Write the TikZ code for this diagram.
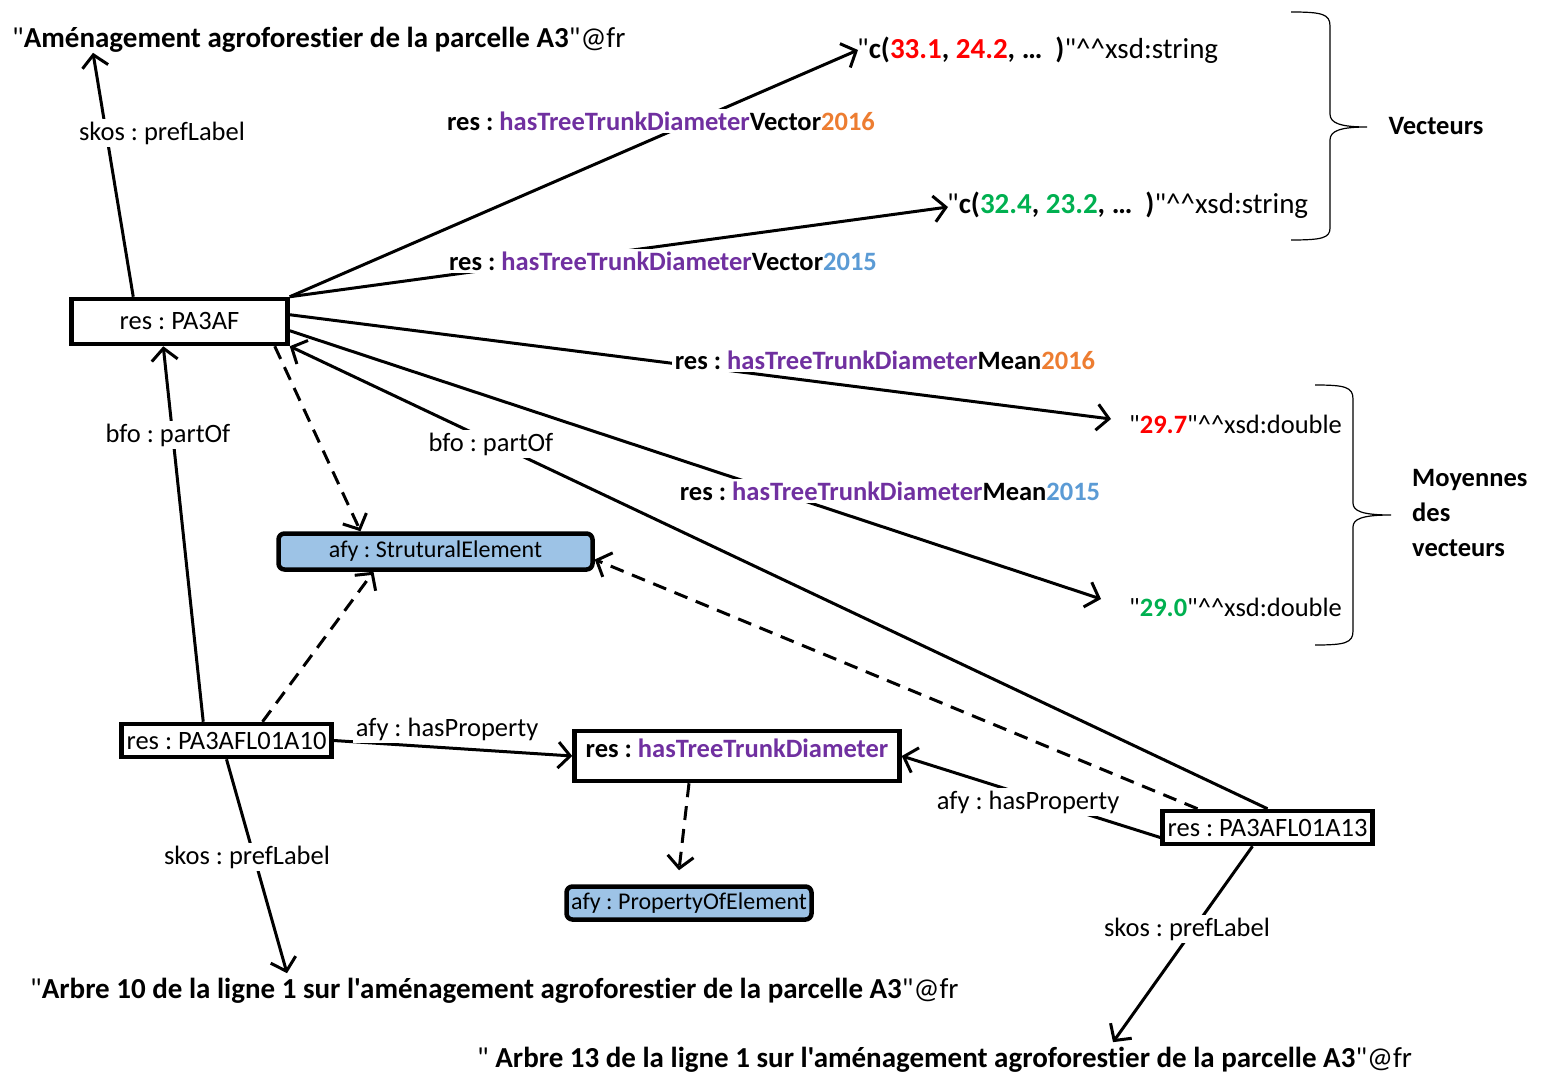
\documentclass[tikz,border=0pt]{standalone}
\usepackage{fontspec}
\setmainfont{Carlito}[Ligatures={TeXOff,CommonOff}]
\usetikzlibrary{arrows.meta, positioning, calc}
\definecolor{cpurple}{HTML}{7030A0}
\definecolor{corange}{HTML}{ED7D31}
\definecolor{cblue}{HTML}{5B9BD5}
\definecolor{cred}{HTML}{FF0000}
\definecolor{cgreen}{HTML}{00B050}
\definecolor{lightblue}{HTML}{9DC3E6}
\frenchspacing

\begin{document}
\begin{tikzpicture}[x=1pt, y=-1pt,
    every node/.style={font=\fontsize{26.5}{31}\selectfont},
    inst/.style={draw, line width=4.5pt, inner sep=2pt},
    cls/.style={inst, rounded corners=6pt, fill=lightblue, font=\fontsize{24}{28}\selectfont},
    lit/.style={anchor=west, inner sep=2pt},
    big/.style={lit, font=\fontsize{29}{34}\selectfont},
    lbl/.style={fill=white, inner sep=3pt},
    rel/.style={line width=3pt, -{Straight Barb[length=12pt, width=26pt, line width=3pt]}},
    typ/.style={rel, dash pattern=on 14pt off 9pt}]
  \useasboundingbox (0,0) rectangle (1544,1075);

  % resources
  \node[inst, minimum width=216pt, minimum height=45pt] (pa3af) at (179.5,321.5) {res : PA3AF};
  \node[cls, minimum width=314pt, minimum height=36pt] (struct) at (435.5,551.5) {afy : StruturalElement};
  \node[inst, minimum width=210pt, minimum height=33pt] (a10) at (226.5,740.5) {res : PA3AFL01A10};
  \node[inst, minimum width=325pt, text height=22pt, text depth=20pt, inner ysep=4pt] (htd) at (737,756)
    {\textbf{res : \textcolor{cpurple}{hasTreeTrunkDiameter}}};
  \node[cls, minimum width=245pt, minimum height=33pt] (poe) at (689,903) {afy : PropertyOfElement};
  \node[inst, minimum width=210pt, minimum height=33pt] (a13) at (1267.5,827.5) {res : PA3AFL01A13};

  % literals
  \node[big] (t1) at (10,40) {"\textbf{Aménagement agroforestier de la parcelle A3}"@fr};
  \node[big] (vec16) at (855,50)
    {"\textbf{c(\textcolor{cred}{33.1}, \textcolor{cred}{24.2}, …\ \ )}"\^{}\^{}xsd:string};
  \node[big] (vec15) at (945,205)
    {"\textbf{c(\textcolor{cgreen}{32.4}, \textcolor{cgreen}{23.2}, …\ \ )}"\^{}\^{}xsd:string};
  \node[lit] (m16) at (1127,424) {"\textbf{\textcolor{cred}{29.7}}"\^{}\^{}xsd:double};
  \node[lit] (m15) at (1127,607) {"\textbf{\textcolor{cgreen}{29.0}}"\^{}\^{}xsd:double};
  \node[big] (t10) at (28,991)
    {"\textbf{Arbre 10 de la ligne 1 sur l'aménagement agroforestier de la parcelle A3}"@fr};
  \node[big] (t13) at (475,1060)
    {" \textbf{Arbre 13 de la ligne 1 sur l'aménagement agroforestier de la parcelle A3}"@fr};

  % links
  \draw[rel] ([xshift=64pt]pa3af.north west) -- ([xshift=83pt,yshift=2pt]t1.south west);
  \draw[rel] (pa3af.north east) -- ([xshift=3pt]vec16.west);
  \draw[rel] (pa3af.north east) -- ([xshift=3pt,yshift=-2pt]vec15.west);
  \draw[rel] ([yshift=-18pt]pa3af.north east) -- ([xshift=-16pt,yshift=5pt]m16.west);
  \draw[rel] ([yshift=-34pt]pa3af.north east) -- ([xshift=-26pt,yshift=8pt]m15.west);
  \draw[rel] (a13.north) -- (pa3af.south east);
  \draw[rel] ([xshift=84pt]a10.north west) -- ([xshift=94pt]pa3af.south west);
  \draw[typ] ([xshift=-15pt]pa3af.south east) -- ([xshift=-75pt]struct.north);
  \draw[typ] ([xshift=36pt]a10.north) -- ([xshift=-62pt]struct.south);
  \draw[typ] ([xshift=-70pt]a13.north) -- ([yshift=-8pt]struct.east);
  \draw[rel] (a10.east) -- (htd.west);
  \draw[rel] ([yshift=-10pt]a13.west) -- (htd.east);
  \draw[typ] ([xshift=-48pt]htd.south) -- ([xshift=-10pt,yshift=14pt]poe.north);
  \draw[rel] (a10.south) -- ([xshift=259pt,yshift=3pt]t10.north west);
  \draw[rel] ([xshift=-15pt]a13.south) -- ([xshift=638pt,yshift=3pt]t13.north west);

  % link labels
  \node[lbl] (l1) at (162,133) {skos : prefLabel};
  \node[lbl] (lv16) at (661,121)
    {\textbf{res : \textcolor{cpurple}{hasTreeTrunkDiameter}Vector\textcolor{corange}{2016}}};
  \node[lbl] (lv15) at (663,261)
    {\textbf{res : \textcolor{cpurple}{hasTreeTrunkDiameter}Vector\textcolor{cblue}{2015}}};
  \node[lbl] (lm16) at (885,360)
    {\textbf{res : \textcolor{cpurple}{hasTreeTrunkDiameter}Mean\textcolor{corange}{2016}}};
  \node[lbl] (lm15) at (890,491)
    {\textbf{res : \textcolor{cpurple}{hasTreeTrunkDiameter}Mean\textcolor{cblue}{2015}}};
  \node[lbl] (lp1) at (168,435) {bfo : partOf};
  \node[lbl] (lp2) at (491,444) {bfo : partOf};
  \node[lbl] (lh1) at (447,729) {afy : hasProperty};
  \node[lbl] (lh2) at (1028,802) {afy : hasProperty};
  \node[lbl] (l2) at (247,857) {skos : prefLabel};
  \node[lbl] (l3) at (1187,929) {skos : prefLabel};

  % braces
  \draw[line width=1.2pt] (1291,12) .. controls (1322,12) and (1330,14) .. (1330,26) -- (1330,114)
    .. controls (1330,123) and (1340,127) .. (1367,127) .. controls (1340,127) and (1330,131) .. (1330,140)
    -- (1330,228) .. controls (1330,238) and (1322,240) .. (1291,240);
  \node[font=\fontsize{26.5}{31}\selectfont\bfseries] (vect) at (1436,126) {Vecteurs};
  \draw[line width=1.2pt] (1315,385) .. controls (1345,385) and (1353,387) .. (1353,399) -- (1353,503)
    .. controls (1353,511) and (1362,515) .. (1391,515) .. controls (1362,515) and (1353,519) .. (1353,527)
    -- (1353,631) .. controls (1353,643) and (1345,645) .. (1315,645);
  \node[lit, align=left, font=\fontsize{26.5}{35}\selectfont\bfseries] (moy) at (1410,513)
    {Moyennes\\des\\vecteurs};
\end{tikzpicture}
\end{document}
